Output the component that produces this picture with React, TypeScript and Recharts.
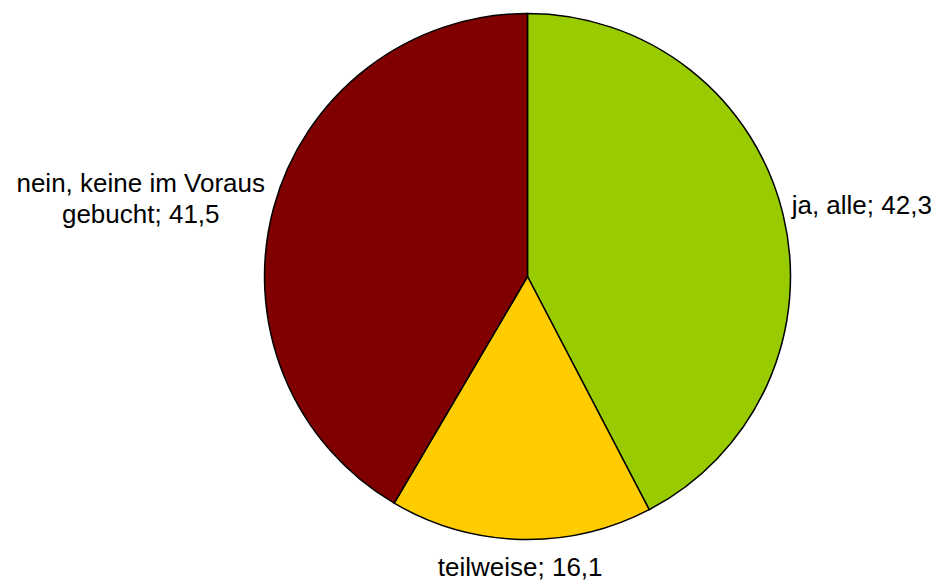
import React from "react";
import { PieChart, Pie, Cell } from "recharts";

const categories = ["ja, alle", "teilweise", "nein, keine im Voraus gebucht"];
const values = [42.3, 16.1, 41.5];
const labelLines = [["ja, alle; 42,3"], ["teilweise; 16,1"], ["nein, keine im Voraus", "gebucht; 41,5"]];
const colors = ["#99CC00", "#FFCC00", "#800000"];

const data = categories.map((name, i) => ({ name, value: values[i], lines: labelLines[i] }));

const FONT_SIZE = 26;
const FONT = `${FONT_SIZE}px "Liberation Sans", Arial, sans-serif`;
const RAD = Math.PI / 180;

let ctx: CanvasRenderingContext2D | null = null;
const measure = (t: string) => {
  if (!ctx) ctx = document.createElement("canvas").getContext("2d");
  if (!ctx) return t.length * FONT_SIZE * 0.5;
  ctx.font = FONT;
  return ctx.measureText(t).width;
};

const renderLabel = (props: any) => {
  const { cx, cy, midAngle, outerRadius, index } = props;
  const lines: string[] = data[index].lines;
  const s = Math.sin(-midAngle * RAD);
  const c = Math.cos(-midAngle * RAD);
  const R = outerRadius + 9 + 19 * Math.pow(Math.abs(s), 6);
  const x = cx + R * c;
  const y = cy + R * s;
  const lh = FONT_SIZE * 1.22;
  const widths = lines.map(measure);
  const maxW = Math.max(...widths);
  let centerX: number;
  if (c > 0.3) centerX = x + maxW / 2;
  else if (c < -0.3) centerX = x - maxW / 2;
  else centerX = x;
  const top = y - ((lines.length - 1) * lh) / 2 + FONT_SIZE * 0.35 - 7 * Math.abs(c);
  return (
    <text key={`lbl-${index}`} textAnchor="middle" fill="#000" style={{ font: FONT }}>
      {lines.map((l, i) => (
        <tspan key={i} x={centerX} y={top + i * lh}>
          {l}
        </tspan>
      ))}
    </text>
  );
};

export default function App() {
  return (
    <PieChart width={939} height={581} margin={{ top: 0, right: 0, bottom: 0, left: 0 }}>
      <Pie
        data={data}
        dataKey="value"
        nameKey="name"
        cx={519.5}
        cy={268.5}
        outerRadius={263}
        startAngle={90}
        endAngle={-270}
        stroke="#000"
        strokeWidth={1.5}
        label={renderLabel}
        labelLine={false}
        isAnimationActive={false}
      >
        {data.map((d, i) => (
          <Cell key={d.name} fill={colors[i]} />
        ))}
      </Pie>
    </PieChart>
  );
}
